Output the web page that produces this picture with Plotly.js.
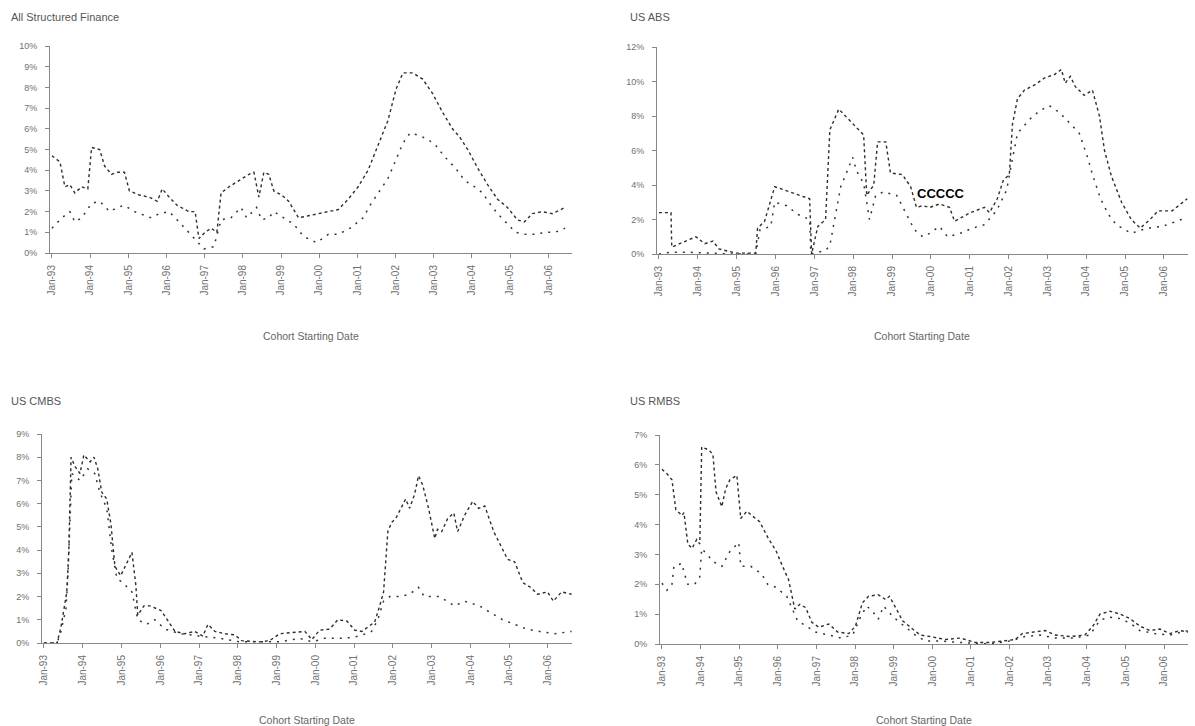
<!DOCTYPE html>
<html>
<head>
<meta charset="utf-8">
<script src="https://cdn.plot.ly/plotly-3.0.1.min.js"></script>
<style>html,body{margin:0;padding:0;background:#fff;}#chart{width:1195px;height:726px;}</style>
</head>
<body>
<div id="chart"></div>
<script>
// ---- Tick labels ----
const tickYears = [1993,1994,1995,1996,1997,1998,1999,2000,2001,2002,2003,2004,2005,2006];
const tickLabels = ["Jan-93","Jan-94","Jan-95","Jan-96","Jan-97","Jan-98","Jan-99","Jan-00","Jan-01","Jan-02","Jan-03","Jan-04","Jan-05","Jan-06"];

// ---- All Structured Finance ----
const sfSolidX = [1993.00,1993.21,1993.34,1993.47,1993.60,1993.78,1993.94,1994.04,1994.25,1994.38,1994.56,1994.72,1994.90,1995.03,1995.29,1995.55,1995.76,1995.89,1996.07,1996.28,1996.59,1996.75,1996.85,1997.01,1997.17,1997.32,1997.43,1997.64,1997.90,1998.16,1998.29,1998.42,1998.55,1998.68,1998.81,1999.02,1999.20,1999.46,1999.72,1999.98,2000.24,2000.50,2000.76,2001.02,2001.28,2001.54,2001.80,2002.01,2002.19,2002.45,2002.71,2002.97,2003.23,2003.49,2003.68,2003.89,2004.15,2004.41,2004.67,2004.93,2005.19,2005.37,2005.58,2005.84,2006.10,2006.44];
const sfSolidY = [4.7,4.4,3.2,3.3,2.9,3.2,3.1,5.1,5.0,4.2,3.8,3.9,3.9,3.0,2.8,2.7,2.5,3.1,2.7,2.3,2.0,2.0,0.7,1.0,1.2,1.0,2.9,3.2,3.5,3.8,3.9,2.7,3.9,3.8,3.0,2.8,2.5,1.7,1.8,1.9,2.0,2.1,2.6,3.2,4.0,5.2,6.4,7.9,8.7,8.7,8.4,7.7,6.8,6.0,5.6,5.0,4.1,3.3,2.6,2.2,1.6,1.5,1.9,2.0,1.9,2.2];
const sfDotX = [1993.00,1993.26,1993.47,1993.60,1993.78,1994.04,1994.25,1994.51,1994.72,1994.90,1995.16,1995.42,1995.60,1995.81,1996.07,1996.33,1996.59,1996.98,1997.24,1997.43,1997.69,1997.95,1998.10,1998.36,1998.49,1998.68,1998.81,1999.07,1999.33,1999.59,1999.93,2000.24,2000.50,2000.81,2001.15,2001.33,2001.54,2001.80,2002.01,2002.19,2002.38,2002.58,2002.84,2003.05,2003.31,2003.57,2003.81,2004.07,2004.28,2004.46,2004.67,2004.93,2005.14,2005.40,2005.66,2005.92,2006.18,2006.44];
const sfDotY = [1.2,1.7,2.0,1.5,1.7,2.4,2.5,2.0,2.2,2.3,2.0,1.8,1.7,1.9,2.0,1.5,1.0,0.2,0.3,1.6,1.7,2.2,1.7,2.2,1.6,1.7,2.0,1.7,1.4,0.8,0.5,0.9,0.9,1.2,1.7,2.3,2.9,3.6,4.5,5.3,5.8,5.7,5.5,5.2,4.6,4.1,3.5,3.2,2.9,2.4,1.9,1.4,1.0,0.9,0.9,1.0,1.0,1.2];

// ---- US ABS ----
const absSolidX = [1993.00,1993.31,1993.33,1993.95,1994.18,1994.39,1994.54,1994.98,1995.49,1995.54,1995.72,1995.98,1996.37,1996.88,1996.93,1997.09,1997.29,1997.40,1997.63,1998.27,1998.35,1998.53,1998.63,1998.84,1998.96,1999.27,1999.48,1999.63,1999.79,1999.97,2000.22,2000.48,2000.61,2000.76,2001.02,2001.38,2001.51,2001.71,2001.87,2002.02,2002.10,2002.23,2002.41,2002.67,2002.92,2003.18,2003.36,2003.46,2003.59,2003.72,2003.95,2004.16,2004.34,2004.47,2004.65,2004.91,2005.16,2005.39,2005.64,2005.85,2006.21,2006.60];
const absSolidY = [2.4,2.4,0.4,1.0,0.6,0.75,0.3,0.05,0.05,1.5,1.9,3.9,3.6,3.2,0.0,1.6,2.0,7.2,8.4,6.9,3.4,4.0,6.5,6.5,4.7,4.6,3.9,2.7,2.8,2.7,2.9,2.7,1.9,2.1,2.4,2.7,2.4,3.2,4.3,4.6,7.5,9.0,9.5,9.8,10.2,10.4,10.7,9.9,10.3,9.7,9.2,9.5,8.0,6.0,4.5,3.0,2.0,1.5,2.0,2.5,2.5,3.2];
const absDotX = [1993.00,1993.28,1993.80,1994.31,1994.83,1995.49,1995.60,1995.88,1995.98,1996.29,1996.57,1996.88,1996.91,1997.29,1997.40,1997.68,1997.99,1998.09,1998.27,1998.42,1998.58,1998.78,1999.12,1999.58,1999.79,1999.97,2000.22,2000.43,2000.76,2001.07,2001.38,2001.69,2001.95,2002.10,2002.23,2002.54,2002.80,2003.05,2003.31,2003.57,2003.82,2004.05,2004.16,2004.37,2004.57,2004.77,2005.16,2005.57,2005.96,2006.45,2006.60];
const absDotY = [0.0,0.1,0.1,0.05,0.0,0.0,1.4,1.6,3.0,2.8,2.3,2.0,0.0,0.2,0.5,3.9,5.6,4.8,4.1,2.0,3.4,3.6,3.4,1.4,1.0,1.2,1.6,1.0,1.2,1.5,1.7,2.5,3.7,5.5,7.0,7.8,8.3,8.6,8.2,7.6,7.0,5.5,4.6,3.2,2.3,1.7,1.2,1.5,1.6,2.0,2.1];

// ---- US CMBS ----
const cmbsSolidX = [1993.00,1993.34,1993.44,1993.54,1993.59,1993.64,1993.70,1993.80,1993.93,1994.03,1994.19,1994.29,1994.39,1994.49,1994.62,1994.73,1994.83,1994.98,1995.09,1995.19,1995.27,1995.37,1995.42,1995.58,1995.73,1996.02,1996.22,1996.38,1996.63,1996.89,1997.10,1997.23,1997.41,1997.66,1997.92,1998.10,1998.57,1998.82,1999.08,1999.47,1999.73,1999.91,2000.11,2000.37,2000.58,2000.81,2001.02,2001.20,2001.35,2001.53,2001.66,2001.76,2001.87,2001.97,2002.07,2002.23,2002.33,2002.43,2002.56,2002.66,2002.77,2002.92,2003.08,2003.15,2003.26,2003.41,2003.57,2003.67,2003.85,2004.06,2004.21,2004.37,2004.60,2004.75,2004.96,2005.14,2005.35,2005.55,2005.73,2005.99,2006.14,2006.35,2006.61];
const cmbsSolidY = [0,0,0.7,1.7,2.2,3.9,8.0,7.6,7.3,8.1,7.8,8.0,7.5,6.5,6.2,5.1,3.3,2.9,3.3,3.6,3.9,2.5,1.2,1.6,1.6,1.4,0.9,0.5,0.4,0.5,0.3,0.8,0.5,0.4,0.35,0.1,0.05,0.1,0.4,0.45,0.5,0.15,0.55,0.6,1.0,0.95,0.55,0.5,0.7,0.9,1.6,2.2,4.8,5.2,5.35,5.9,6.2,5.8,6.4,7.2,6.8,5.8,4.5,4.9,4.8,5.35,5.6,4.8,5.5,6.1,5.8,5.9,4.8,4.3,3.6,3.5,2.6,2.4,2.1,2.2,1.8,2.2,2.1];
const cmbsDotX = [1993.00,1993.34,1993.44,1993.57,1993.62,1993.72,1993.93,1994.13,1994.31,1994.44,1994.62,1994.75,1994.88,1995.09,1995.27,1995.42,1995.65,1995.86,1996.12,1996.51,1997.02,1997.54,1998.05,1999.08,1999.60,1999.91,2000.24,2000.76,2001.14,2001.45,2001.61,2001.76,2001.92,2002.18,2002.43,2002.66,2002.81,2003.20,2003.59,2003.85,2004.23,2004.54,2004.83,2005.14,2005.45,2005.78,2006.17,2006.61];
const cmbsDotY = [0,0,0.5,1.5,3.0,7.3,7.0,7.5,7.3,6.5,5.8,4.0,2.8,2.5,2.2,1.0,0.8,1.0,0.6,0.4,0.3,0.2,0.05,0.05,0.2,0.05,0.2,0.2,0.3,0.5,1.0,1.8,2.0,2.0,2.1,2.4,2.0,2.0,1.6,1.8,1.6,1.3,1.0,0.8,0.6,0.5,0.4,0.5];

// ---- US RMBS ----
const rmbsSolidX = [1993.00,1993.13,1993.26,1993.36,1993.52,1993.57,1993.67,1993.78,1993.90,1993.98,1994.03,1994.21,1994.32,1994.40,1994.55,1994.65,1994.76,1994.94,1995.04,1995.20,1995.35,1995.53,1995.74,1995.95,1996.13,1996.28,1996.44,1996.57,1996.72,1996.88,1997.06,1997.32,1997.55,1997.84,1998.01,1998.19,1998.35,1998.60,1998.79,1998.89,1999.10,1999.23,1999.49,1999.69,1999.95,2000.34,2000.73,2001.11,2001.50,2001.89,2002.15,2002.33,2002.66,2002.92,2003.18,2003.57,2003.95,2004.16,2004.34,2004.60,2004.86,2005.12,2005.37,2005.63,2005.89,2006.15,2006.41,2006.62];
const rmbsSolidY = [5.85,5.7,5.5,4.5,4.3,4.4,3.35,3.2,3.5,3.35,6.6,6.5,6.35,5.1,4.6,5.2,5.5,5.65,4.2,4.45,4.28,4.1,3.57,3.13,2.58,2.15,1.17,1.33,1.22,0.73,0.56,0.67,0.4,0.35,0.6,1.38,1.6,1.65,1.49,1.6,1.1,0.78,0.5,0.3,0.25,0.15,0.2,0.05,0.05,0.1,0.15,0.35,0.4,0.45,0.3,0.25,0.3,0.6,1.0,1.1,1.0,0.85,0.6,0.45,0.5,0.35,0.45,0.4];
const rmbsDotX = [1993.00,1993.13,1993.26,1993.31,1993.52,1993.57,1993.67,1993.85,1993.98,1994.03,1994.34,1994.55,1994.76,1994.99,1995.04,1995.30,1995.58,1995.74,1995.95,1996.23,1996.51,1996.72,1996.98,1997.32,1997.63,1997.94,1998.14,1998.30,1998.45,1998.60,1998.74,1998.99,1999.28,1999.56,1999.82,2000.21,2000.73,2001.50,2002.02,2002.40,2002.79,2003.18,2003.69,2004.08,2004.34,2004.60,2004.86,2005.12,2005.37,2005.76,2006.15,2006.62];
const rmbsDotY = [2.04,1.8,2.0,2.6,2.7,2.4,2.0,2.0,2.25,3.2,2.75,2.6,3.1,3.4,2.6,2.6,2.35,2.0,1.9,1.6,0.78,0.62,0.4,0.3,0.2,0.3,0.9,1.27,1.1,0.83,1.27,0.9,0.6,0.3,0.1,0.1,0.05,0.0,0.1,0.25,0.3,0.2,0.2,0.3,0.8,0.9,0.85,0.7,0.45,0.35,0.3,0.45];

const panelTitles = ["All Structured Finance", "US ABS", "US CMBS", "US RMBS"];
const xTitle = "Cohort Starting Date";

// ---- build ----
const W = 1195, H = 726;
const textCol = '#707070';
const fontFam = 'Liberation Sans, Arial, sans-serif';
function px(x){ return x / W; }
function py(y){ return 1 - y / H; }

const solidStyle = {color:'#2e2e2e', width:1.4, dash:'dot'};
const dotStyle = {color:'#333', width:1.5, dash:'2px,6px'};

const series = [
  [sfSolidX, sfSolidY, sfDotX, sfDotY],
  [absSolidX, absSolidY, absDotX, absDotY],
  [cmbsSolidX, cmbsSolidY, cmbsDotX, cmbsDotY],
  [rmbsSolidX, rmbsSolidY, rmbsDotX, rmbsDotY]
];
const axSuffix = ['', '2', '3', '4'];
const traces = [];
series.forEach((s, i) => {
  traces.push({x:s[0], y:s[1], type:'scatter', mode:'lines', line:solidStyle, xaxis:'x'+axSuffix[i], yaxis:'y'+axSuffix[i], hoverinfo:'skip', showlegend:false});
  traces.push({x:s[2], y:s[3], type:'scatter', mode:'lines', line:dotStyle, xaxis:'x'+axSuffix[i], yaxis:'y'+axSuffix[i], hoverinfo:'skip', showlegend:false});
});

// panel geometry in pixels: [left, right, top, bottom], y max, y step
const panels = [
  {l:50, r:572, t:46, b:253, ymax:10, dt:1},
  {l:657, r:1188, t:47, b:254, ymax:12, dt:2},
  {l:42, r:572, t:434, b:643, ymax:9, dt:1},
  {l:660, r:1188, t:435, b:644, ymax:7, dt:1}
];

const layout = {
  width:W, height:H,
  margin:{l:0, r:0, t:0, b:0},
  paper_bgcolor:'#fff', plot_bgcolor:'#fff',
  font:{family:fontFam, size:9, color:textCol},
  showlegend:false,
  annotations:[]
};
panels.forEach((p, i) => {
  const xa = 'xaxis' + axSuffix[i], ya = 'yaxis' + axSuffix[i];
  layout[xa] = {
    domain:[px(p.l), px(p.r)], anchor:'y'+axSuffix[i],
    range:[1992.95, 2006.62], tickvals:tickYears, ticktext:tickLabels,
    tickangle:-90, ticks:'outside', ticklen:4, tickcolor:'#888', ticklabelstandoff:3,
    showline:true, linecolor:'#888', linewidth:1, showgrid:false, zeroline:false,
    tickfont:{size:10, color:textCol, family:fontFam}, fixedrange:true
  };
  layout[ya] = {
    domain:[py(p.b), py(p.t)], anchor:'x'+axSuffix[i],
    range:[0, p.ymax], dtick:p.dt, tick0:0, ticksuffix:'%',
    ticks:'outside', ticklen:4, tickcolor:'#888', ticklabelstandoff:6,
    showline:true, linecolor:'#888', linewidth:1, showgrid:false, zeroline:false,
    tickfont:{size:9, color:textCol, family:fontFam}, fixedrange:true
  };
});

const titlePos = [[9, 17], [628, 17], [9, 401], [628, 401]];
panelTitles.forEach((t, i) => {
  layout.annotations.push({text:t, xref:'paper', yref:'paper', x:px(titlePos[i][0]), y:py(titlePos[i][1]),
    xanchor:'left', yanchor:'middle', showarrow:false, font:{size:11, color:'#555', family:fontFam}});
});
const xtPos = [[311, 336], [922, 336], [307, 720], [924, 720]];
xtPos.forEach(p => {
  layout.annotations.push({text:xTitle, xref:'paper', yref:'paper', x:px(p[0]), y:py(p[1]),
    xanchor:'center', yanchor:'middle', showarrow:false, font:{size:10.5, color:'#666', family:fontFam}});
});
layout.annotations.push({text:'<b>CCCCC</b>', xref:'x2', yref:'y2', x:2000.25, y:3.5,
  xanchor:'center', yanchor:'middle', showarrow:false, font:{size:13, color:'#000', family:fontFam}});

Plotly.newPlot('chart', traces, layout, {staticPlot:true, displayModeBar:false});
</script>
</body>
</html>
